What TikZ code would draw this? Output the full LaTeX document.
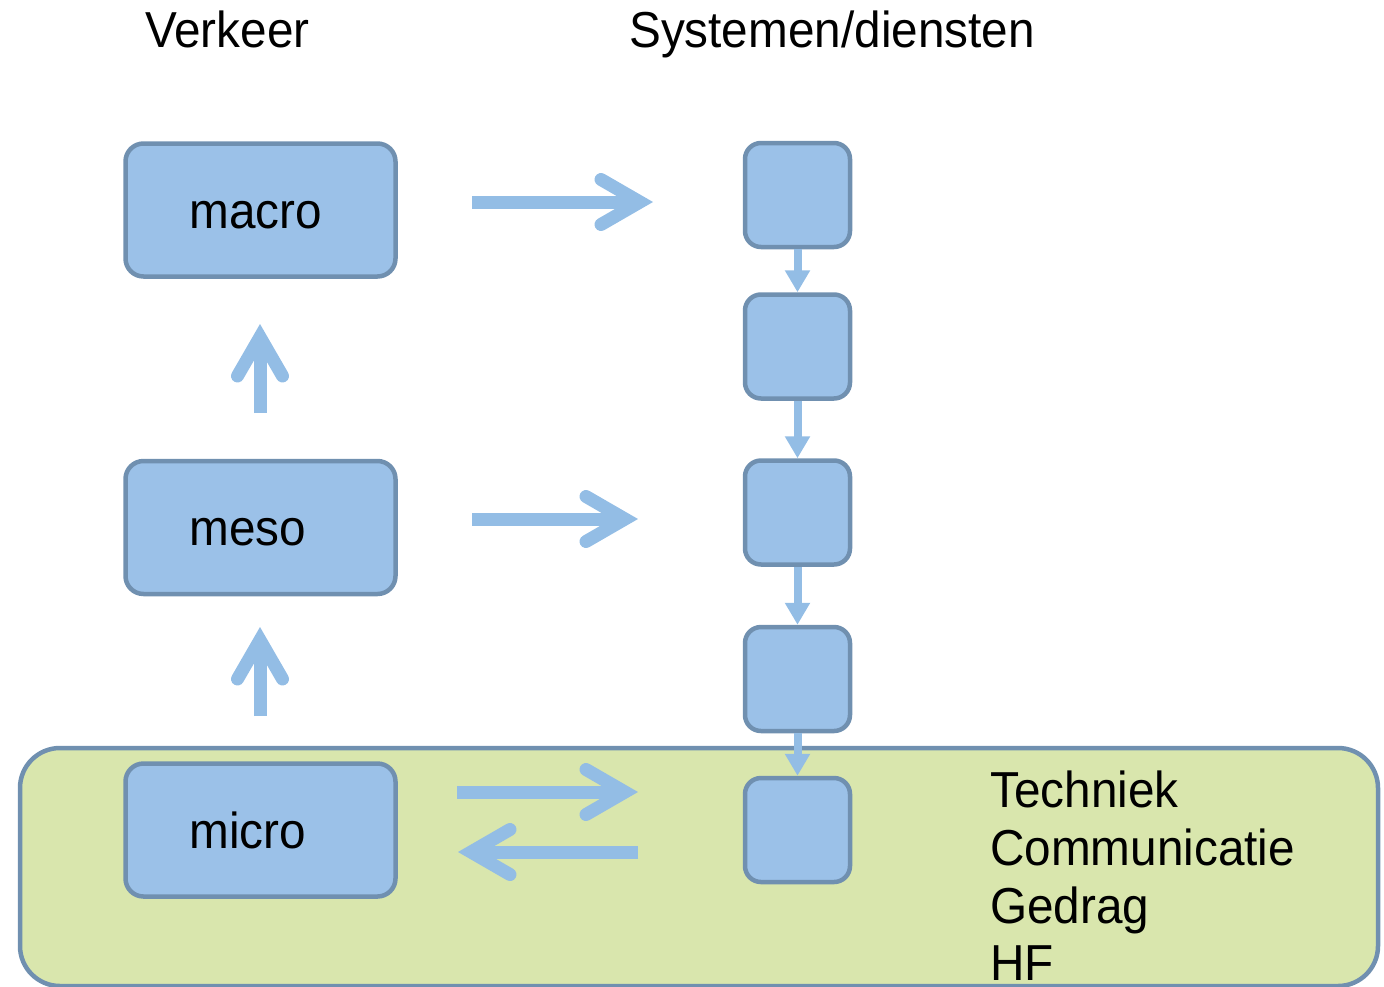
\documentclass[tikz,border=0pt]{standalone}
\usepackage{fontspec}
\usepackage{graphicx}
\setmainfont{Liberation Sans}
\usetikzlibrary{arrows.meta,calc}

\definecolor{boxfill}{HTML}{9BC1E8}
\definecolor{boxline}{HTML}{7090B0}
\definecolor{arrowblue}{HTML}{93BDE5}
\definecolor{zonefill}{HTML}{D9E6AD}

% slightly tall lettering
\newcommand\tall[1]{\scalebox{1}[1.06]{#1}}

% thick arrow with an open chevron head: #1 start, #2 tip
\newcommand\flowarrow[2]{%
  \coordinate (fav) at ($(#2)!13pt!(#1)$);
  \draw[shaft] (#1) -- (fav);
  \draw[barb] ($(fav)!45pt!30:(#1)$) -- (fav) -- ($(fav)!45pt!-30:(#1)$);
}

\tikzset{
  bigfont/.style={font=\fontsize{47.7}{57}\selectfont},
  level/.style={draw=boxline, fill=boxfill, line width=4.5pt, rounded corners=18pt,
    minimum width=270pt, minimum height=133pt, text width=142pt, inner xsep=64pt,
    inner ysep=0pt, align=left, text height=36pt, text depth=0pt, bigfont},
  stage/.style={draw=boxline, fill=boxfill, line width=4.5pt, rounded corners=16pt,
    minimum width=105pt, minimum height=104pt, inner sep=0pt},
  zone/.style={draw=boxline, fill=zonefill, line width=4.5pt, rounded corners=40pt,
    minimum width=1358pt, minimum height=238pt, inner sep=0pt},
  shaft/.style={draw=arrowblue, line width=13pt, line cap=butt},
  barb/.style={draw=arrowblue, line width=13pt, line cap=round, line join=miter},
  link/.style={draw=arrowblue, line width=8pt, -{Triangle[width=24pt,length=22pt]}},
  heading/.style={anchor=base west, inner sep=0pt, bigfont},
}

\begin{document}
\begin{tikzpicture}[x=1pt, y=-1pt]
\useasboundingbox (0,0) rectangle (1384,986);
\clip (0,0) rectangle (1384,986);

% human-factors zone at the bottom, running off the lower edge
\node[zone] (zone) at (699,867) {};

% headings
\node[heading] (hverkeer) at (145,47) {\tall{Verkeer}};
\node[heading] (hsys) at (629,47) {\tall{Systemen/diensten}};

% traffic levels
\node[level] (macro) at (260.5,210) {\tall{macro}};
\node[level] (meso) at (260.5,527.5) {\tall{meso}};
\node[level] (micro) at (260.5,830) {\tall{micro}};

% chain of systems/services
\node[stage] (s1) at (797.5,195) {};
\node[stage] (s2) at (797.5,346.5) {};
\node[stage] (s3) at (797.5,512.5) {};
\node[stage] (s4) at (797.5,679) {};
\node[stage] (s5) at (797.5,830) {};

\draw[link] (s1.south) -- (s2.north);
\draw[link] (s2.south) -- (s3.north);
\draw[link] (s3.south) -- (s4.north);
\draw[link] (s4.south) -- (s5.north);

% aspects list
\node[heading] (t1) at (990,807) {\tall{Techniek}};
\node[heading] (t2) at (990,865) {\tall{Communicatie}};
\node[heading] (t3) at (990,923) {\tall{Gedrag}};
\node[heading] (t4) at (990,980) {\tall{HF}};

% flow arrows
\coordinate (a1s) at (472,202);  \coordinate (a1e) at (653,202);
\coordinate (a2s) at (472,519);  \coordinate (a2e) at (638,519);
\coordinate (a3s) at (457,792);  \coordinate (a3e) at (638,792);
\coordinate (a4s) at (638,852);  \coordinate (a4e) at (458,852);
\coordinate (u1s) at (260,413);  \coordinate (u1e) at (260,324);
\coordinate (u2s) at (260,716);  \coordinate (u2e) at (260,627);

\flowarrow{a1s}{a1e}
\flowarrow{a2s}{a2e}
\flowarrow{a3s}{a3e}
\flowarrow{a4s}{a4e}
\flowarrow{u1s}{u1e}
\flowarrow{u2s}{u2e}
\end{tikzpicture}
\end{document}
